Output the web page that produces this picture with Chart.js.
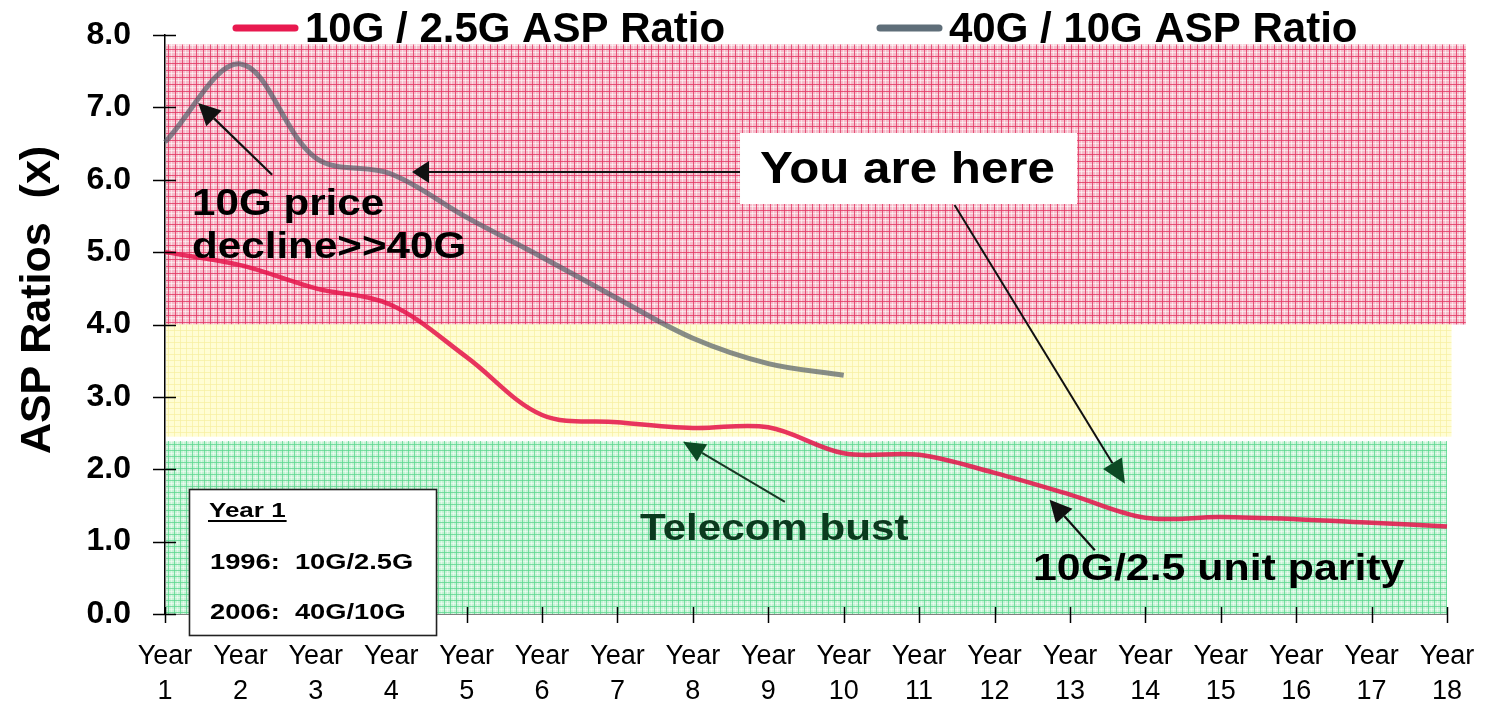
<!DOCTYPE html>
<html><head><meta charset="utf-8">
<style>html,body{margin:0;padding:0;background:#fff;}#wrap{width:1488px;height:704px;}</style>
<script src="https://cdn.jsdelivr.net/npm/chart.js@4.4.1/dist/chart.umd.min.js"></script>
</head><body><div id="wrap"><canvas id="c" width="1488" height="704"></canvas></div>
<script>
// ---------- data ----------
const categories = [["Year","1"],["Year","2"],["Year","3"],["Year","4"],["Year","5"],["Year","6"],
  ["Year","7"],["Year","8"],["Year","9"],["Year","10"],["Year","11"],["Year","12"],["Year","13"],
  ["Year","14"],["Year","15"],["Year","16"],["Year","17"],["Year","18"]];
const seriesNames = ["10G / 2.5G ASP Ratio", "40G / 10G ASP Ratio"];
const ratio10Gto25G = [5.00, 4.82, 4.50, 4.27, 3.55, 2.75, 2.65, 2.57, 2.58, 2.22, 2.20, 1.95, 1.65, 1.33, 1.34, 1.31, 1.26, 1.21];
const ratio40Gto10G = [6.52, 7.60, 6.30, 6.08, 5.48, 4.93, 4.36, 3.81, 3.46, 3.30, null, null, null, null, null, null, null, null];
const yAxisTitle = "ASP Ratios  (x)";
const yMin = 0, yMax = 8, yStep = 1;

// ---------- styling helpers ----------
const FONT = '"Liberation Sans", Arial, Helvetica, sans-serif';
const RED = 'rgba(228,20,74,0.86)';
const GRAY = 'rgba(84,92,104,0.7)';
const GRAY_LEG = '#5f6e79';
const RED_LEG = '#e8194f';

function makePattern(size, base, line, lineW, light) {
  const c = document.createElement('canvas');
  c.width = size; c.height = size;
  const g = c.getContext('2d');
  g.fillStyle = base; g.fillRect(0, 0, size, size);
  if (light) {
    g.fillStyle = light;
    g.fillRect(Math.floor(size / 2), 0, 1, size);
    g.fillRect(0, Math.floor(size / 2), size, 1);
  }
  g.fillStyle = line;
  g.fillRect(0, 0, lineW, size);
  g.fillRect(0, 0, size, lineW);
  return g.createPattern(c, 'repeat');
}

// bands: value ranges (y) and category extents (x)
const bands = [
  {from: 4.0, to: 7.87, x0: 0, x1: 17.25, kind: 'red'},
  {from: 2.45, to: 4.0, x0: 0, x1: 17.06, kind: 'yellow'},
  {from: 0.0, to: 2.39, x0: 0, x1: 17.0, kind: 'green'}
];

// annotations in data coordinates (category index, value)
const notes = {
  hereBox: {x0: 7.625, x1: 12.094, y0: 6.646, y1: 5.665},
  hereText: {x: 7.89, y: 5.955, text: "You are here"},
  hereArrow1: {x1: 7.625, y1: 6.107, x2: 3.275, y2: 6.107},
  hereArrow2: {x1: 10.47, y1: 5.65, x2: 12.73, y2: 1.80},
  priceText: {x: 0.358, y: 5.513, lines: ["10G price", "decline>>40G"], dy: 0.594},
  priceArrow: {x1: 1.42, y1: 6.07, x2: 0.44, y2: 7.06},
  bustText: {x: 6.30, y: 1.022, text: "Telecom bust"},
  bustArrow: {x1: 8.22, y1: 1.55, x2: 6.87, y2: 2.38},
  parityText: {x: 11.51, y: 0.47, text: "10G/2.5 unit parity"},
  parityArrow: {x1: 12.33, y1: 0.88, x2: 11.73, y2: 1.58},
  infoBox: {x0: 0.318, x1: 3.594, y0: 1.727, y1: -0.29, title: "Year 1",
    lines: ["1996:  10G/2.5G", "2006:  40G/10G"]}
};

function stretchText(ctx, str, x, y, size, sx, color, weight) {
  ctx.save();
  ctx.translate(x, y);
  ctx.scale(sx, 1);
  ctx.font = (weight || 'bold') + ' ' + size + 'px ' + FONT;
  ctx.fillStyle = color || '#000';
  ctx.textBaseline = 'alphabetic';
  ctx.textAlign = 'left';
  ctx.fillText(str, 0, 0);
  const w = ctx.measureText(str).width * sx;
  ctx.restore();
  return w;
}

function arrow(ctx, x1, y1, x2, y2, color, headLen, headW, lw, headColor) {
  const ang = Math.atan2(y2 - y1, x2 - x1);
  const bx = x2 - Math.cos(ang) * headLen, by = y2 - Math.sin(ang) * headLen;
  ctx.save();
  ctx.strokeStyle = color; ctx.lineWidth = lw;
  ctx.beginPath(); ctx.moveTo(x1, y1); ctx.lineTo(bx, by); ctx.stroke();
  ctx.fillStyle = headColor || color;
  ctx.beginPath();
  ctx.moveTo(x2, y2);
  ctx.lineTo(bx + Math.sin(ang) * headW / 2, by - Math.cos(ang) * headW / 2);
  ctx.lineTo(bx - Math.sin(ang) * headW / 2, by + Math.cos(ang) * headW / 2);
  ctx.closePath(); ctx.fill();
  ctx.restore();
}

const decorPlugin = {
  id: 'decor',
  beforeDatasetsDraw(chart) {
    const ctx = chart.ctx, xs = chart.scales.x, ys = chart.scales.y;
    const pats = {
      red: makePattern(7, '#f6bccb', 'rgba(226,52,98,0.8)', 1, 'rgba(255,255,255,0.55)'),
      yellow: makePattern(6, '#fffdd4', 'rgba(246,238,160,0.7)', 1, null),
      green: makePattern(6, '#c6f3d6', 'rgba(88,214,140,0.75)', 1, 'rgba(255,255,255,0.45)')
    };
    bands.forEach(b => {
      const x0 = xs.getPixelForValue(b.x0) + 1, x1 = xs.getPixelForValue(b.x1);
      const y0 = ys.getPixelForValue(b.to), y1 = ys.getPixelForValue(b.from);
      ctx.save();
      ctx.fillStyle = pats[b.kind];
      ctx.fillRect(x0, y0, x1 - x0, y1 - y0);
      ctx.restore();
    });
  },
  afterDatasetsDraw(chart) {
    const ctx = chart.ctx, xs = chart.scales.x, ys = chart.scales.y;
    const X = v => xs.getPixelForValue(v), Y = v => ys.getPixelForValue(v);
    // axis tick marks crossing the axis lines
    ctx.save();
    ctx.strokeStyle = '#000'; ctx.lineWidth = 1.5;
    ys.ticks.forEach(t => { const y = Math.round(Y(t.value)) + 0.5; ctx.beginPath(); ctx.moveTo(xs.left - 12, y); ctx.lineTo(xs.left + 11, y); ctx.stroke(); });
    for (let i = 0; i < categories.length; i++) { const x = Math.round(X(i)) + 0.5; ctx.beginPath(); ctx.moveTo(x, ys.bottom + 9); ctx.lineTo(x, ys.bottom - 7); ctx.stroke(); }
    ctx.restore();

    const n = notes;
    // "10G price decline>>40G"
    arrow(ctx, X(n.priceArrow.x1), Y(n.priceArrow.y1), X(n.priceArrow.x2), Y(n.priceArrow.y2), '#111', 22, 22, 2.2);
    n.priceText.lines.forEach((l, i) => stretchText(ctx, l, X(n.priceText.x), Y(n.priceText.y - i * n.priceText.dy), 37, 1.14, '#000'));
    // You are here arrows + box
    arrow(ctx, X(n.hereArrow1.x1), Y(n.hereArrow1.y1), X(n.hereArrow1.x2), Y(n.hereArrow1.y2), '#111', 17, 22, 2);
    arrow(ctx, X(n.hereArrow2.x1), Y(n.hereArrow2.y1), X(n.hereArrow2.x2), Y(n.hereArrow2.y2), '#111', 24, 22, 2, '#0c4a24');
    ctx.save(); ctx.fillStyle = '#fff';
    ctx.fillRect(X(n.hereBox.x0), Y(n.hereBox.y0), X(n.hereBox.x1) - X(n.hereBox.x0), Y(n.hereBox.y1) - Y(n.hereBox.y0));
    ctx.restore();
    stretchText(ctx, n.hereText.text, X(n.hereText.x), Y(n.hereText.y), 44, 1.12, '#000');
    // Telecom bust
    arrow(ctx, X(n.bustArrow.x1), Y(n.bustArrow.y1), X(n.bustArrow.x2), Y(n.bustArrow.y2), '#173a24', 22, 20, 2, '#0c4a24');
    stretchText(ctx, n.bustText.text, X(n.bustText.x), Y(n.bustText.y), 36, 1.17, '#0b3a1e');
    // unit parity
    arrow(ctx, X(n.parityArrow.x1), Y(n.parityArrow.y1), X(n.parityArrow.x2), Y(n.parityArrow.y2), '#111', 22, 22, 2.2);
    stretchText(ctx, n.parityText.text, X(n.parityText.x), Y(n.parityText.y), 36, 1.19, '#000');
  },
  afterDraw(chart) {
    const ctx = chart.ctx, xs = chart.scales.x, ys = chart.scales.y;
    const X = v => xs.getPixelForValue(v), Y = v => ys.getPixelForValue(v);
    const b = notes.infoBox;
    const bx0 = X(b.x0), bx1 = X(b.x1), by0 = Y(b.y0), by1 = Y(b.y1);
    ctx.save();
    ctx.fillStyle = '#fff'; ctx.fillRect(bx0, by0, bx1 - bx0, by1 - by0);
    ctx.strokeStyle = '#222'; ctx.lineWidth = 1.6; ctx.strokeRect(bx0 + 0.5, by0 + 0.5, bx1 - bx0, by1 - by0);
    ctx.restore();
    const tw = stretchText(ctx, b.title, bx0 + 20, by0 + 28, 20, 1.3, '#000');
    ctx.save(); ctx.fillStyle = '#000'; ctx.fillRect(bx0 + 19, by0 + 31, tw + 2, 2); ctx.restore();
    stretchText(ctx, b.lines[0], bx0 + 21, by0 + 80, 22, 1.24, '#000');
    stretchText(ctx, b.lines[1], bx0 + 21, by0 + 130, 22, 1.24, '#000');

    // legend
    const ds = chart.data.datasets;
    const legendItems = [{x: 233, color: RED_LEG, text: ds[0].label}, {x: 877, color: GRAY_LEG, text: ds[1].label}];
    legendItems.forEach(it => {
      ctx.save();
      ctx.strokeStyle = it.color; ctx.lineWidth = 7; ctx.lineCap = 'round';
      ctx.beginPath(); ctx.moveTo(it.x + 3, 28); ctx.lineTo(it.x + 62, 28); ctx.stroke();
      ctx.restore();
      stretchText(ctx, it.text, it.x + 72, 42, 42, 1.0, '#000');
    });
    // y-axis title
    ctx.save();
    ctx.translate(50, 300);
    ctx.rotate(-Math.PI / 2);
    ctx.font = 'bold 43px ' + FONT;
    ctx.fillStyle = '#000'; ctx.textAlign = 'center'; ctx.textBaseline = 'alphabetic';
    ctx.fillText(yAxisTitle, 0, 0);
    ctx.restore();
  }
};

new Chart(document.getElementById('c'), {
  type: 'line',
  data: {
    labels: categories,
    datasets: [
      {label: seriesNames[0], data: ratio10Gto25G, borderColor: RED, borderWidth: 4.5, pointRadius: 0, tension: 0.35, fill: false},
      {label: seriesNames[1], data: ratio40Gto10G, borderColor: GRAY, borderWidth: 5, pointRadius: 0, tension: 0.35, fill: false, spanGaps: false}
    ]
  },
  plugins: [decorPlugin],
  options: {
    responsive: false,
    animation: false,
    devicePixelRatio: 1,
    layout: {padding: {top: 35, right: 41, left: 0, bottom: 0}},
    plugins: {legend: {display: false}, tooltip: {enabled: false}, title: {display: false}},
    scales: {
      x: {
        type: 'category', offset: false,
        grid: {display: true, drawOnChartArea: false, drawTicks: true, tickLength: 22, tickColor: 'rgba(0,0,0,0)', color: 'rgba(0,0,0,0)'},
        border: {display: true, color: '#000', width: 1.5},
        ticks: {autoSkip: false, maxRotation: 0, minRotation: 0, color: '#000', padding: 3,
          font: {family: FONT, size: 27, lineHeight: 1.3}},
        afterFit: s => { s.height = 90; }
      },
      y: {
        min: yMin, max: yMax,
        grid: {display: true, drawOnChartArea: false, drawTicks: true, tickLength: 34, tickColor: 'rgba(0,0,0,0)', color: 'rgba(0,0,0,0)'},
        border: {display: true, color: '#000', width: 1.5},
        ticks: {stepSize: yStep, color: '#000', padding: 0, callback: v => Number(v).toFixed(1),
          font: {family: FONT, size: 32, weight: 'bold'}},
        afterFit: s => { s.width = 165; }
      }
    }
  }
});
</script></body></html>
